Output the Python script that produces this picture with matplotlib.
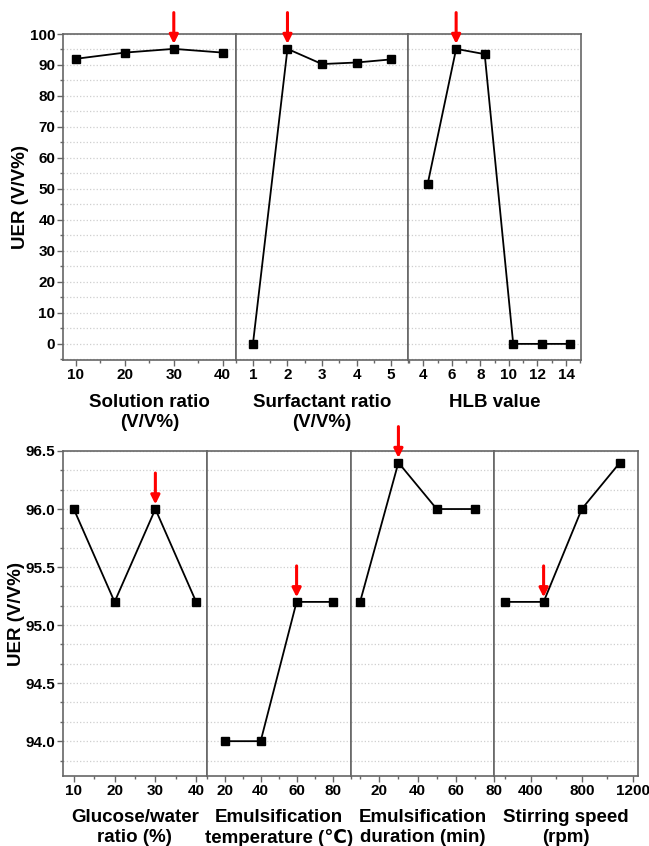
import numpy as np
import matplotlib
matplotlib.use("Agg")
import matplotlib.pyplot as plt
from matplotlib.ticker import MultipleLocator, FormatStrFormatter

plt.rcParams['font.family'] = ['Liberation Sans', 'DejaVu Sans']
plt.rcParams['font.weight'] = 'bold'

# top row: UER vs solution ratio / surfactant ratio / HLB
solution_ratio = [10, 20, 30, 40]
uer_solution = [92.0, 94.0, 95.2, 94.0]
surfactant_ratio = [1, 2, 3, 4, 5]
uer_surfactant = [0.0, 95.2, 90.3, 90.8, 91.8]
hlb = [4.3, 6.3, 8.3, 10.3, 12.3, 14.3]
uer_hlb = [51.5, 95.2, 93.5, 0.0, 0.0, 0.0]

# bottom row
glucose = [10, 20, 30, 40]
uer_glucose = [96.0, 95.2, 96.0, 95.2]
temperature = [20, 40, 60, 80]
uer_temp = [94.0, 94.0, 95.2, 95.2]
duration = [10, 30, 50, 70]
uer_duration = [95.2, 96.4, 96.0, 96.0]
speed = [200, 500, 800, 1100]
uer_speed = [95.2, 95.2, 96.0, 96.4]

# index of the chosen (optimal) level in each panel
best_top = [2, 1, 1]
best_bottom = [2, 2, 1, 1]

top_labels = ["Solution ratio\n(V/V%)", "Surfactant ratio\n(V/V%)", "HLB value"]
bottom_labels = ["Glucose/water\nratio (%)", "Emulsification\ntemperature (\u2103)",
                 "Emulsification\nduration (min)", "Stirring speed\n(rpm)"]

W, H = 649, 846
fig = plt.figure(figsize=(W / 100, H / 100), dpi=100)

spine_col = '#666666'
grid_col = '#cfcfcf'


def style(ax, first):
    for s in ax.spines.values():
        s.set_color(spine_col)
        s.set_linewidth(1.2)
    ax.tick_params(axis='both', which='both', direction='out', color=spine_col,
                   labelsize=11, top=False, right=False)
    ax.tick_params(which='major', length=4, width=1)
    ax.tick_params(which='minor', length=2.5, width=1)
    ax.tick_params(axis='x', pad=2)
    ax.tick_params(axis='y', pad=1.5)
    ax.grid(True, axis='y', which='both', linestyle=':', color=grid_col, lw=0.9)
    ax.set_axisbelow(True)
    if not first:
        ax.tick_params(axis='y', which='both', left=False, labelleft=False)


def draw(ax, x, y, best, dy_tail, dy_tip):
    ax.plot(x, y, color='black', lw=1.3, marker='s', markersize=5.8,
            markerfacecolor='black', markeredgecolor='black', zorder=3)
    ax.annotate('', xy=(x[best], y[best] + dy_tip), xytext=(x[best], y[best] + dy_tail),
                arrowprops=dict(arrowstyle='-|>', color='red', lw=2.2, mutation_scale=13,
                                shrinkA=0, shrinkB=0),
                annotation_clip=False, zorder=5)


# ---- top row ----
top_x = [solution_ratio, surfactant_ratio, hlb]
top_y = [uer_solution, uer_surfactant, uer_hlb]
top_xlim = [(7.35, 42.65), (0.5, 5.5), (2.95, 15.05)]
top_major = [10, 1, 2]
top_minor = [5, 0.5, 1]
left, right = 63, 581
bot, topp = 360, 34
pw = (right - left) / 3
ph = bot - topp
for i in range(3):
    ax = fig.add_axes([(left + i * pw) / W, 1 - bot / H, pw / W, ph / H])
    draw(ax, top_x[i], top_y[i], best_top[i], 11.7, 1.6)
    ax.set_ylim(-5.2, 100)
    ax.yaxis.set_major_locator(MultipleLocator(10))
    ax.yaxis.set_minor_locator(MultipleLocator(5))
    ax.set_xlim(*top_xlim[i])
    ax.xaxis.set_major_locator(MultipleLocator(top_major[i]))
    ax.xaxis.set_minor_locator(MultipleLocator(top_minor[i]))
    style(ax, i == 0)
    ax.set_xlabel(top_labels[i], fontsize=13.5, fontweight='bold', linespacing=1.2)
    ax.xaxis.set_label_coords(0.5, -34 / ph)
    if i == 0:
        ax.set_ylabel('UER (V/V%)', fontsize=13.5, fontweight='bold')
        ax.yaxis.set_label_coords(-34 / pw, 0.5)

# ---- bottom row ----
bot_x = [glucose, temperature, duration, speed]
bot_y = [uer_glucose, uer_temp, uer_duration, uer_speed]
bot_xlim = [(7.35, 42.6), (10, 90), (5, 80), (112, 1242)]
bot_major = [10, 20, 20, 400]
bot_minor = [5, 10, 10, 200]
left, right = 63, 638
bot, topp = 776, 451
pw = (right - left) / 4
ph = bot - topp
for i in range(4):
    ax = fig.add_axes([(left + i * pw) / W, 1 - bot / H, pw / W, ph / H])
    draw(ax, bot_x[i], bot_y[i], best_bottom[i], 0.31, 0.04)
    ax.set_ylim(93.7, 96.5)
    ax.yaxis.set_major_locator(MultipleLocator(0.5))
    ax.yaxis.set_minor_locator(MultipleLocator(0.5 / 3))
    ax.yaxis.set_major_formatter(FormatStrFormatter('%.1f'))
    ax.set_xlim(*bot_xlim[i])
    ax.xaxis.set_major_locator(MultipleLocator(bot_major[i]))
    ax.xaxis.set_minor_locator(MultipleLocator(bot_minor[i]))
    style(ax, i == 0)
    ax.set_xlabel(bottom_labels[i], fontsize=13.5, fontweight='bold', linespacing=1.2)
    ax.xaxis.set_label_coords(0.5, -33 / ph)
    if i == 0:
        ax.set_ylabel('UER (V/V%)', fontsize=13.5, fontweight='bold')
        ax.yaxis.set_label_coords(-38 / pw, 0.5)

fig.savefig('out.png', dpi=100)
